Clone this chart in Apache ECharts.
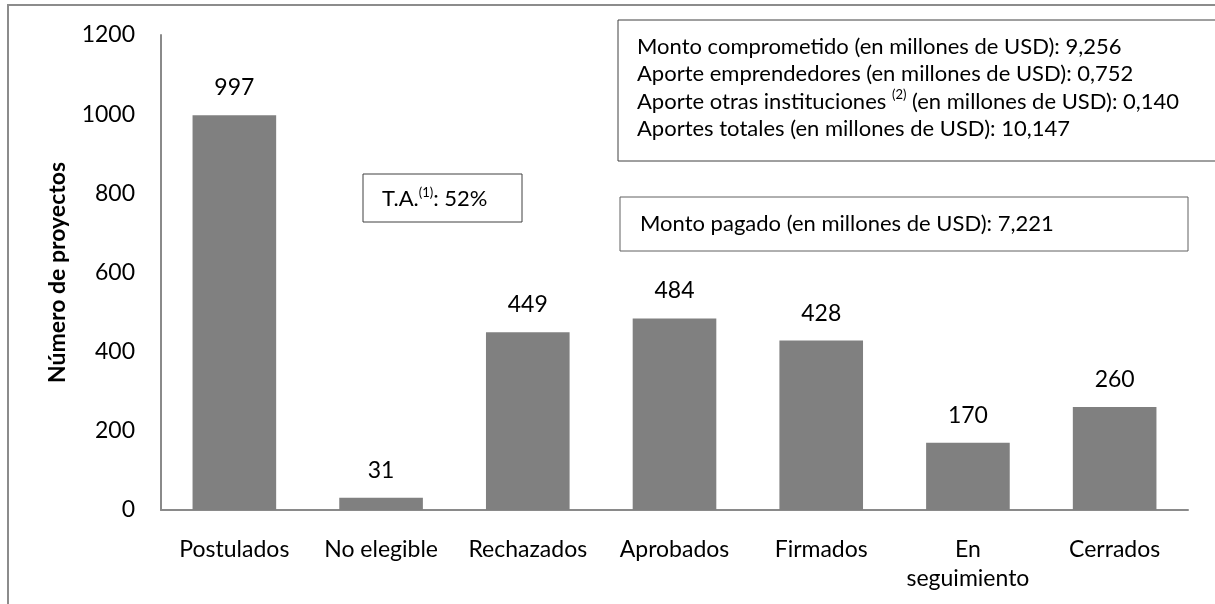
<!DOCTYPE html>
<html>
<head>
<meta charset="utf-8">
<script src="https://cdn.jsdelivr.net/npm/echarts@6/dist/echarts.min.js"></script>
<style>
    html, body {margin: 0; padding: 0; background: #fff;}
    #main {width: 1215px; height: 604px;}
</style>
</head>
<body>
<div id="main"></div>
<script>
const categories = ['Postulados', 'No elegible', 'Rechazados', 'Aprobados', 'Firmados', 'En\nseguimiento', 'Cerrados'];
const proyectos = [997, 31, 449, 484, 428, 170, 260];
const yTicks = {min: 0, max: 1200, interval: 200};
const notaMontos = [
    'Monto comprometido (en millones de USD): 9,256',
    'Aporte emprendedores (en millones de USD): 0,752',
    'Aporte otras instituciones {sup|(2)} (en millones de USD): 0,140',
    'Aportes totales (en millones de USD): 10,147'
];
const notaPagado = 'Monto pagado (en millones de USD): 7,221';
const notaTA = 'T.A.{sup|(1)}: 52%';

const FONT = 'Lato, "Open Sans", sans-serif';

function gen_note(x, y, text, lineHeight) {
    return {
        type: 'text',
        x: x,
        y: y,
        style: {
            text: text,
            fill: '#000',
            fontSize: 22,
            fontFamily: FONT,
            lineHeight: lineHeight,
            textVerticalAlign: 'top',
            rich: {
                sup: {fontSize: 13, fontFamily: FONT, fill: '#000', verticalAlign: 'top', lineHeight: 14}
            }
        }
    };
}

function gen_box(x, y, w, h, color) {
    return {
        type: 'rect',
        shape: {x: x, y: y, width: w, height: h},
        style: {fill: 'transparent', stroke: color, lineWidth: 1}
    };
}

let chart = echarts.init(document.getElementById('main'));

let option = {
    animation: false,
    textStyle: {fontFamily: FONT},
    grid: {left: 161, right: 27, top: 35, bottom: 94},
    xAxis: {
        type: 'category',
        data: categories,
        axisLine: {lineStyle: {color: '#8a8a8a', width: 2}},
        axisTick: {show: false},
        axisLabel: {
            color: '#000', fontSize: 23, margin: 25, lineHeight: 29, fontFamily: FONT,
            interval: 0, hideOverlap: false
        }
    },
    yAxis: {
        type: 'value',
        min: yTicks.min,
        max: yTicks.max,
        interval: yTicks.interval,
        name: 'Número de proyectos',
        nameLocation: 'middle',
        nameRotate: 90,
        nameGap: 92,
        nameTextStyle: {color: '#000', fontSize: 23, fontWeight: 'bold', fontFamily: FONT},
        axisLine: {show: true, lineStyle: {color: '#8a8a8a', width: 2}},
        axisTick: {show: false},
        splitLine: {show: false},
        axisLabel: {
            color: '#000', fontSize: 23, margin: 26, fontFamily: FONT,
            formatter: function (value) {
                return String(value);
            }
        }
    },
    series: [{
        type: 'bar',
        data: proyectos,
        barCategoryGap: '43%',
        itemStyle: {color: '#808080'},
        label: {
            show: true,
            position: 'top',
            distance: 16,
            color: '#000',
            fontSize: 23,
            fontFamily: FONT
        }
    }],
    graphic: [
        {
            type: 'polyline',
            shape: {points: [[8, 604], [8, 5], [1215, 5]]},
            style: {stroke: '#8c8c8c', lineWidth: 2, fill: null}
        },
        gen_box(618, 20, 610, 141, '#404040'),
        gen_note(637, 33, notaMontos.join('\n'), 27.5),
        gen_box(620, 197, 568, 54, '#606060'),
        gen_note(640, 211, notaPagado, 26),
        gen_box(363, 174, 159, 48, '#404040'),
        gen_note(382, 186, notaTA, 26)
    ]
};

chart.setOption(option);
</script>
</body>
</html>
